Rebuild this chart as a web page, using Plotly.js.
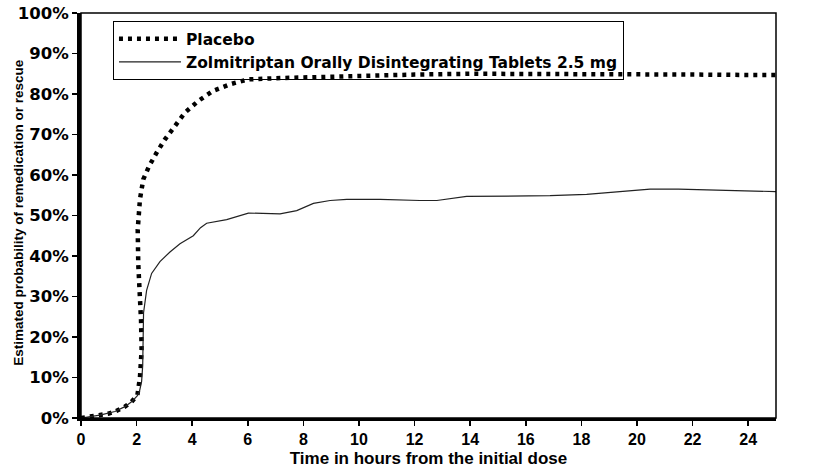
<!DOCTYPE html>
<html>
<head>
<meta charset="utf-8">
<script src="https://cdn.plot.ly/plotly-3.0.1.min.js"></script>
<style>
  html, body { margin: 0; padding: 0; background: #fff; }
  #chart { width: 818px; height: 476px; }
</style>
</head>
<body>
<div id="chart"></div>
<script>
// Time (hours) and estimated probability (%)
const placeboHours = [0, 0.33, 0.68, 1.0, 1.22, 1.58, 1.82, 2.03, 2.12, 2.18, 2.16, 2.1, 2.06, 2.04, 2.12, 2.24, 2.45, 2.72, 3.02, 3.38, 3.74, 4.22, 4.76, 5.36, 6.0, 7.0, 8.0, 10.0, 12.0, 14.0, 16.0, 18.0, 20.0, 22.0, 24.0, 25.0];
const placeboProb  = [0, 0.3, 0.7, 1.1, 1.6, 2.8, 4.0, 5.7, 10.0, 16.8, 24.0, 31.7, 38.0, 46.5, 54.0, 58.9, 62.2, 65.5, 68.8, 72.1, 75.4, 78.3, 80.8, 82.4, 83.6, 83.9, 84.1, 84.5, 84.8, 85.0, 85.0, 85.0, 84.9, 84.8, 84.7, 84.7];

const zolmiHours = [0, 0.33, 0.68, 1.22, 1.58, 1.82, 2.03, 2.1, 2.18, 2.22, 2.23, 2.25, 2.36, 2.54, 2.84, 3.2, 3.56, 4.04, 4.3, 4.52, 5.24, 6.02, 7.16, 7.76, 8.36, 8.96, 9.56, 10.76, 12.19, 12.8, 13.87, 15.07, 16.87, 18.19, 19.27, 20.47, 21.49, 22.86, 24.06, 25.0];
const zolmiProb  = [0, 0.3, 0.7, 1.6, 2.8, 4.0, 5.5, 6.5, 9.0, 13.0, 20.0, 26.0, 31.5, 35.7, 38.6, 41.0, 43.0, 45.0, 47.0, 48.1, 49.0, 50.6, 50.4, 51.2, 53.0, 53.7, 54.0, 54.0, 53.7, 53.7, 54.7, 54.8, 54.9, 55.2, 55.9, 56.5, 56.5, 56.2, 56.0, 55.9];

const seriesNames = ['Placebo', 'Zolmitriptan Orally Disintegrating Tablets 2.5 mg'];
const xTickVals = [0, 2, 4, 6, 8, 10, 12, 14, 16, 18, 20, 22, 24];
const yTickVals = [0, 10, 20, 30, 40, 50, 60, 70, 80, 90, 100];
const xTitle = 'Time in hours from the initial dose';
const yTitle = 'Estimated probability of remedication or rescue';

const arial = 'Liberation Sans, Arial, sans-serif';
const dejavu = 'DejaVu Sans, sans-serif';

const traces = [
  {
    x: placeboHours, y: placeboProb, name: seriesNames[0],
    type: 'scatter', mode: 'lines',
    line: { color: '#000', width: 4.5, dash: '4px,5px' }
  },
  {
    x: zolmiHours, y: zolmiProb, name: seriesNames[1],
    type: 'scatter', mode: 'lines',
    line: { color: '#222', width: 1.2 }
  }
];

const layout = {
  width: 818, height: 476,
  margin: { l: 81, r: 42, t: 13, b: 58 },
  paper_bgcolor: '#fff', plot_bgcolor: '#fff',
  showlegend: true,
  legend: {
    x: 0.046, y: 0.98, xanchor: 'left', yanchor: 'top',
    bgcolor: 'rgba(255,255,255,0)', bordercolor: '#000', borderwidth: 1,
    font: { family: dejavu, size: 15.5, color: '#000', weight: 'bold' },
    itemwidth: 62, tracegroupgap: 0
  },
  xaxis: {
    range: [0, 25], tickvals: xTickVals, ticktext: xTickVals.map(String),
    showgrid: false, zeroline: false,
    showline: true, linecolor: '#000', linewidth: 3,
    ticks: 'outside', ticklen: 5, tickwidth: 1.5, tickcolor: '#000',
    tickfont: { family: arial, size: 16, color: '#000', weight: 'bold' },
    title: { text: xTitle, font: { family: arial, size: 17, color: '#000', weight: 'bold' }, standoff: 5 }
  },
  yaxis: {
    range: [0, 100], tickvals: yTickVals, ticktext: yTickVals.map(v => v + '%'),
    showgrid: false, zeroline: false,
    showline: true, linecolor: '#000', linewidth: 4,
    ticks: 'outside', ticklen: 5, tickwidth: 1.5, tickcolor: '#000',
    tickfont: { family: dejavu, size: 16.5, color: '#000', weight: 'bold' }
  },
  annotations: [{
    text: yTitle, textangle: -90, showarrow: false,
    xref: 'paper', yref: 'paper', x: -0.089, y: 0.507,
    xanchor: 'center', yanchor: 'middle',
    font: { family: arial, size: 13.5, color: '#000', weight: 'bold' }
  }],
  shapes: [{
    type: 'rect', xref: 'paper', yref: 'paper', x0: 0, x1: 1, y0: 0, y1: 1,
    line: { color: '#000', width: 1.5 }, fillcolor: 'rgba(0,0,0,0)', layer: 'above'
  }]
};

Plotly.newPlot('chart', traces, layout, { staticPlot: true, displayModeBar: false });
</script>
</body>
</html>
